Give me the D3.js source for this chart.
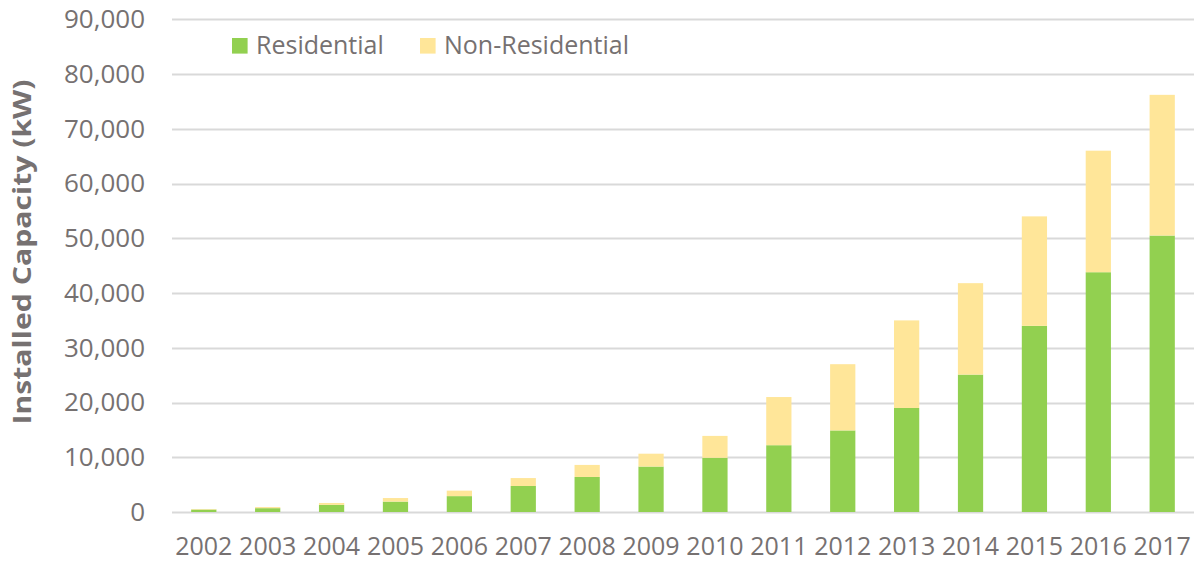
<!DOCTYPE html>
<html>
<head>
<meta charset="utf-8">
<script src="https://cdn.jsdelivr.net/npm/d3@7"></script>
<style>
  body { margin: 0; background: #fff; }
  svg text { font-family: "Open Sans", "Liberation Sans", sans-serif; fill: #767171; }
</style>
</head>
<body>
<svg id="chart" width="1194" height="562"></svg>
<script>
// data (kW)
const years = ['2002', '2003', '2004', '2005', '2006', '2007', '2008', '2009',
    '2010', '2011', '2012', '2013', '2014', '2015', '2016', '2017']
const residential = [450, 700, 1300, 1900, 2900, 4750, 6400, 8300,
    9900, 12200, 14900, 19000, 25100, 34000, 43800, 50500]
const nonResidential = [100, 200, 350, 650, 1000, 1450, 2200, 2350,
    4000, 8800, 12100, 16000, 16700, 20000, 22200, 25700]
const yTicks = [0, 10000, 20000, 30000, 40000, 50000, 60000, 70000, 80000, 90000]
const seriesNames = ['Residential', 'Non-Residential']
const seriesColors = ['#92D050', '#FFE699']

const svg = d3.select('#chart')
const margin = { left: 172, right: 0, top: 19.3, bottom: 50 }
const width = 1194, height = 562
const plotBottom = 512

const x = d3.scaleBand()
    .domain(years)
    .range([margin.left, width - margin.right])
    .paddingInner(0.605)
    .paddingOuter(0.3)

const y = d3.scaleLinear()
    .domain([0, 90000])
    .range([plotBottom, margin.top])

// gridlines
svg.append('g')
    .selectAll('line')
    .data(yTicks)
    .enter()
    .append('line')
    .attr('x1', margin.left)
    .attr('x2', width)
    .attr('y1', d => Math.round(y(d)) + 0.5)
    .attr('y2', d => Math.round(y(d)) + 0.5)
    .attr('stroke', '#D9D9D9')
    .attr('stroke-width', 2)

// y axis labels
const yAxis = d3.axisLeft(y)
    .tickValues(yTicks)
    .tickFormat(d3.format(','))
    .tickSize(0)
    .tickPadding(27)
const yg = svg.append('g')
    .attr('transform', `translate(${margin.left},0)`)
    .call(yAxis)
yg.select('.domain').remove()
yg.selectAll('text')
    .attr('font-size', 26)
    .attr('fill', '#767171')
    .style('font-family', '"Open Sans", sans-serif')

// stacked bars
const rows = years.map((yr, i) => ({ year: yr, Residential: residential[i], 'Non-Residential': nonResidential[i] }))
const stacked = d3.stack().keys(seriesNames)(rows)

svg.append('g')
    .selectAll('g')
    .data(stacked)
    .enter()
    .append('g')
    .attr('fill', (d, i) => seriesColors[i])
    .selectAll('rect')
    .data(d => d)
    .enter()
    .append('rect')
    .attr('x', d => x(d.data.year))
    .attr('width', x.bandwidth())
    .attr('y', d => y(d[1]))
    .attr('height', d => y(d[0]) - y(d[1]))

// x axis labels
const xAxis = d3.axisBottom(x).tickSize(0).tickPadding(0)
const xg = svg.append('g')
    .attr('transform', `translate(0,${plotBottom})`)
    .call(xAxis)
xg.select('.domain').remove()
xg.selectAll('text')
    .attr('y', 43)
    .attr('dy', 0)
    .attr('font-size', 25)
    .attr('fill', '#767171')
    .style('font-family', '"Open Sans", sans-serif')

// y axis title
svg.append('text')
    .attr('transform', `translate(31,252) rotate(-90)`)
    .attr('text-anchor', 'middle')
    .attr('font-size', 25)
    .attr('font-weight', 'bold')
    .attr('textLength', 345)
    .attr('lengthAdjust', 'spacingAndGlyphs')
    .text('Installed Capacity (kW)')

// legend
const legendPos = [232, 420]
const legend = svg.append('g')
    .selectAll('g')
    .data(seriesNames)
    .enter()
    .append('g')
    .attr('transform', (d, i) => `translate(${legendPos[i]},38)`)
legend.append('rect')
    .attr('width', 15.6)
    .attr('height', 15.6)
    .attr('fill', (d, i) => seriesColors[i])
legend.append('text')
    .attr('x', 24)
    .attr('y', 16)
    .attr('font-size', 25)
    .text(d => d)
</script>
</body>
</html>
